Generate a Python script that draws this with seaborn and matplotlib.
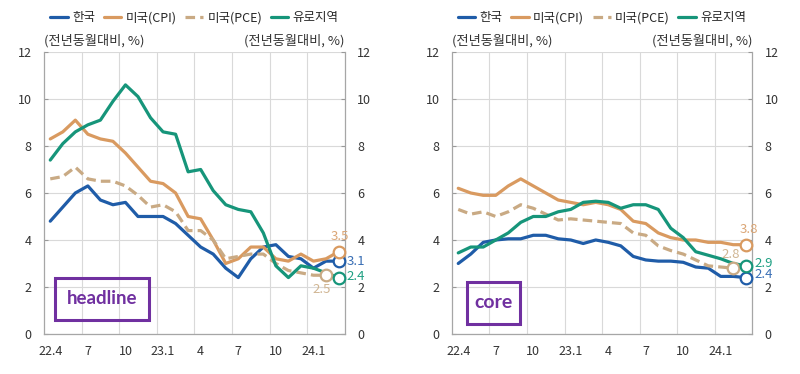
import numpy as np
import pandas as pd
import matplotlib.pyplot as plt
from matplotlib.patches import Rectangle
import seaborn as sns

# 월 (22.4 ~ 24.3)
meses = ['22.4', '5', '6', '7', '8', '9', '10', '11', '12',
         '23.1', '2', '3', '4', '5', '6', '7', '8', '9', '10', '11', '12',
         '24.1', '2', '3']
etiquetas_x = ['22.4', '7', '10', '23.1', '4', '7', '10', '24.1']

# headline
kr_head = [4.8, 5.4, 6.0, 6.3, 5.7, 5.5, 5.6, 5.0, 5.0, 5.0, 4.7, 4.2,
           3.7, 3.4, 2.8, 2.4, 3.2, 3.7, 3.8, 3.3, 3.2, 2.8, 3.1, 3.1]
cpi_head = [8.3, 8.6, 9.1, 8.5, 8.3, 8.2, 7.7, 7.1, 6.5, 6.4, 6.0, 5.0,
            4.9, 4.0, 3.0, 3.2, 3.7, 3.7, 3.2, 3.1, 3.4, 3.1, 3.2, 3.5]
pce_head = [6.6, 6.7, 7.1, 6.6, 6.5, 6.5, 6.3, 5.9, 5.4, 5.5, 5.2, 4.4,
            4.4, 4.0, 3.2, 3.3, 3.4, 3.4, 3.0, 2.7, 2.6, 2.5, 2.5]
eu_head = [7.4, 8.1, 8.6, 8.9, 9.1, 9.9, 10.6, 10.1, 9.2, 8.6, 8.5, 6.9,
           7.0, 6.1, 5.5, 5.3, 5.2, 4.3, 2.9, 2.4, 2.9, 2.8, 2.6, 2.4]

# core
kr_core = [3.0, 3.4, 3.9, 4.0, 4.05, 4.05, 4.2, 4.2, 4.05, 4.0, 3.85, 4.0,
           3.9, 3.75, 3.3, 3.15, 3.1, 3.1, 3.05, 2.85, 2.8, 2.45, 2.45, 2.4]
cpi_core = [6.2, 6.0, 5.9, 5.9, 6.3, 6.6, 6.3, 6.0, 5.7, 5.6, 5.5, 5.6,
            5.5, 5.3, 4.8, 4.7, 4.3, 4.1, 4.0, 4.0, 3.9, 3.9, 3.8, 3.8]
pce_core = [5.3, 5.1, 5.2, 5.0, 5.2, 5.5, 5.35, 5.1, 4.85, 4.9, 4.85, 4.8,
            4.75, 4.7, 4.3, 4.2, 3.75, 3.55, 3.4, 3.15, 2.9, 2.85, 2.8]
eu_core = [3.45, 3.7, 3.7, 4.0, 4.3, 4.75, 5.0, 5.0, 5.2, 5.3, 5.6, 5.65,
           5.6, 5.35, 5.5, 5.5, 5.3, 4.5, 4.1, 3.5, 3.35, 3.2, 3.0, 2.9]

series = ['한국', '미국(CPI)', '미국(PCE)', '유로지역']
colores = {'한국': '#1f5ca8', '미국(CPI)': '#d99a60',
           '미국(PCE)': '#c9aa84', '유로지역': '#16957a'}
colores_txt = {'한국': '#3a6fb5', '미국(CPI)': '#dba676',
               '미국(PCE)': '#d0b592', '유로지역': '#1fa083'}

plt.style.use('default')
sns.set_style('white')
plt.rcParams['font.family'] = ['Noto Sans CJK KR', 'DejaVu Sans']


def armar_df(kr, cpi, pce, eu):
    filas = []
    for nombre, vals in zip(series, [kr, cpi, pce, eu]):
        for i, v in enumerate(vals):
            filas.append({'idx': i, 'valor': v, 'serie': nombre})
    return pd.DataFrame(filas)


def dibujar(ax, df, etiqueta, caja, offsets, tam_txt):
    sns.lineplot(data=df, x='idx', y='valor', hue='serie', style='serie',
                 palette=colores, dashes={'한국': '', '미국(CPI)': '',
                                          '미국(PCE)': (3, 1.6), '유로지역': ''},
                 linewidth=2.3, ax=ax, legend=True)
    # marcadores finales
    for nombre in series:
        d = df[df['serie'] == nombre]
        x_fin = d['idx'].iloc[-1]
        y_fin = d['valor'].iloc[-1]
        ax.scatter([x_fin], [y_fin], s=70, facecolor='white',
                   edgecolor=colores[nombre], linewidth=1.6, zorder=5,
                   clip_on=False)
        dx, dy = offsets[nombre]
        ax.annotate(f'{y_fin:.1f}', (x_fin, y_fin), xytext=(dx, dy),
                    textcoords='offset points', color=colores_txt[nombre],
                    fontsize=9.5, ha='left' if dx > 2 else 'center',
                    va='center', annotation_clip=False)

    ax.set_xlim(-0.5, 23.5)
    ax.set_ylim(0, 12)
    ax.set_xticks(np.arange(0, 24, 3))
    ax.set_xticklabels(etiquetas_x)
    ax.set_xticks(np.arange(2.5, 23, 3), minor=True)
    ax.set_yticks(np.arange(0, 13, 2))
    ax.tick_params(axis='x', which='major', length=0, pad=8, labelsize=9,
                   colors='#333333')
    ax.tick_params(axis='x', which='minor', direction='in', length=3,
                   color='#999999')
    ax.tick_params(axis='y', direction='in', length=3, color='#999999',
                   left=True, right=True, labelleft=True, labelright=True,
                   pad=9, labelsize=9, labelcolor='#333333')
    ax.grid(True, which='minor', axis='x', color='#d9d9d9', linewidth=0.8)
    ax.grid(True, which='major', axis='y', color='#d9d9d9', linewidth=0.8)
    for lado in ['left', 'right', 'bottom']:
        ax.spines[lado].set_color('#a6a6a6')
        ax.spines[lado].set_linewidth(0.9)
    ax.spines['top'].set_visible(False)
    ax.set_xlabel('')
    ax.set_ylabel('')

    ax.text(0.0, 1.015, '(전년동월대비, %)', transform=ax.transAxes,
            ha='left', va='bottom', fontsize=9.5, color='#333333')
    ax.text(1.0, 1.015, '(전년동월대비, %)', transform=ax.transAxes,
            ha='right', va='bottom', fontsize=9.5, color='#333333')

    ax.legend(loc='lower center', bbox_to_anchor=(0.5, 1.08), ncol=4,
              frameon=False, fontsize=9, handlelength=1.4,
              columnspacing=0.7, handletextpad=0.35, borderaxespad=0)

    x0, y0, w, h = caja
    ax.add_patch(Rectangle((x0, y0), w, h, transform=ax.transAxes,
                           fill=False, edgecolor='#7030a0', linewidth=2.2,
                           zorder=6))
    ax.text(x0 + w / 2, y0 + h / 2, etiqueta, transform=ax.transAxes,
            ha='center', va='center', fontsize=tam_txt, fontweight='bold',
            color='#7030a0', family=['Lato', 'DejaVu Sans'], zorder=6)


fig = plt.figure(figsize=(8, 3.74), dpi=100)
ax1 = fig.add_axes([0.055, 0.107, 0.376, 0.754])
ax2 = fig.add_axes([0.565, 0.107, 0.375, 0.754])

df_head = armar_df(kr_head, cpi_head, pce_head, eu_head)
df_core = armar_df(kr_core, cpi_core, pce_core, eu_core)

dibujar(ax1, df_head, 'headline', (0.037, 0.05, 0.313, 0.15),
        {'한국': (6, 0), '미국(CPI)': (1, 11), '미국(PCE)': (-3, -10),
         '유로지역': (6, 1)}, 13.5)
dibujar(ax2, df_core, 'core', (0.05, 0.035, 0.177, 0.15),
        {'한국': (6, 2), '미국(CPI)': (2, 11), '미국(PCE)': (-2, 10),
         '유로지역': (6, 2)}, 14)

plt.savefig('out.png', dpi=100)
